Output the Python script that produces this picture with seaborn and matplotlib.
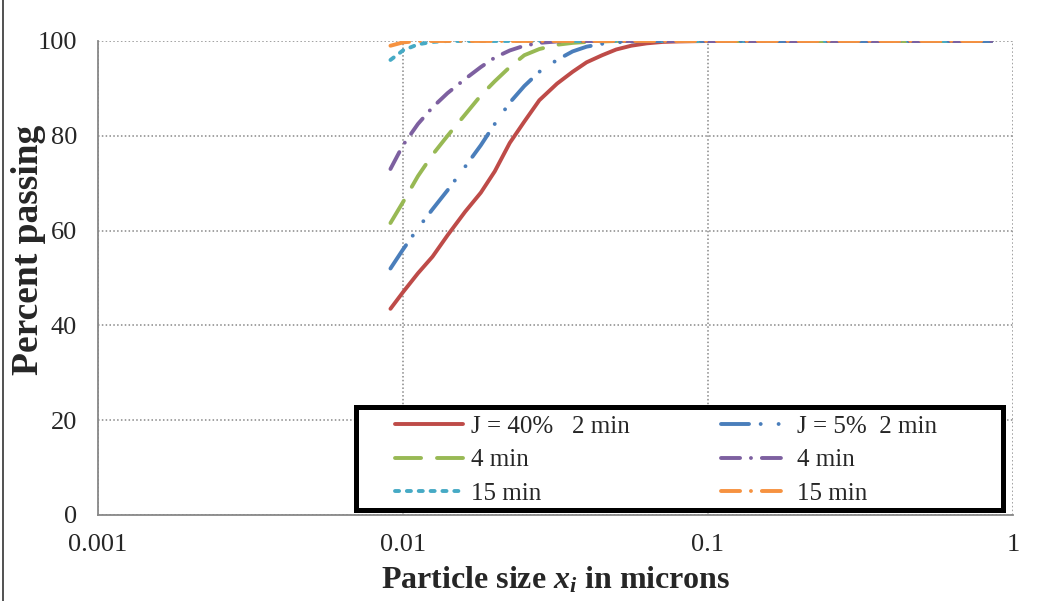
import matplotlib
matplotlib.use('Agg')
import numpy as np
import pandas as pd
import seaborn as sns
import matplotlib.pyplot as plt
import matplotlib.lines as mlines
import matplotlib.patches as mpatches

# particle sizes (microns) and percent passing
size = [0.0091, 0.01, 0.0112, 0.0125, 0.014, 0.016, 0.018, 0.02, 0.0224, 0.025,
        0.028, 0.032, 0.036, 0.04, 0.045, 0.05, 0.056, 0.063, 0.071, 0.08,
        0.1, 0.2, 0.4, 0.85]

j40_2min = [43.5, 47, 51, 54.5, 59, 64, 68, 72.5, 78.5, 83,
            87.5, 91, 93.5, 95.5, 97, 98.2, 99, 99.5, 99.8, 99.9,
            100, 100, 100, 100]
j40_4min = [61.6, 66, 71.5, 76, 80, 84.5, 88.5, 91.5, 94.5, 97,
            98.3, 99.2, 99.6, 99.8, 99.9, 100, 100, 100, 100, 100,
            100, 100, 100, 100]
j40_15min = [96, 98, 99.3, 99.8, 100, 100, 100, 100, 100, 100,
             100, 100, 100, 100, 100, 100, 100, 100, 100, 100,
             100, 100, 100, 100]
j5_2min = [52, 56, 60.5, 64.5, 68.5, 73.5, 78, 82.5, 87, 90.5,
           93.5, 96, 97.8, 98.8, 99.4, 99.7, 99.9, 100, 100, 100,
           100, 100, 100, 100]
j5_4min = [73, 78, 82.5, 86, 89, 92, 94.5, 96.5, 98, 99,
           99.6, 99.9, 100, 100, 100, 100, 100, 100, 100, 100,
           100, 100, 100, 100]
j5_15min = [99, 99.7, 100, 100, 100, 100, 100, 100, 100, 100,
            100, 100, 100, 100, 100, 100, 100, 100, 100, 100,
            100, 100, 100, 100]

labels = ['J = 40%   2 min', '4 min', '15 min', 'J = 5%  2 min', '4 min', '15 min']
x_ticks = [0.001, 0.01, 0.1, 1]
x_ticklabels = ['0.001', '0.01', '0.1', '1']
y_ticks = [0, 20, 40, 60, 80, 100]

sns.set_style('white')
plt.rcParams['font.family'] = ['Liberation Serif', 'DejaVu Serif']
plt.rcParams['mathtext.fontset'] = 'custom'
plt.rcParams['mathtext.it'] = 'Liberation Serif:italic:bold'
plt.rcParams['mathtext.rm'] = 'Liberation Serif:bold'

fig = plt.figure(figsize=(10.51, 6.01), dpi=100)
ax = fig.add_axes([0.0932, 0.1431, 0.8706, 0.7887])

series = [
    (j40_2min, '#BE4B48', '-'),
    (j40_4min, '#98B954', (0, (6.7, 4.1))),
    (j40_15min, '#46AAC5', (0, (1.05, 2.0))),
    (j5_2min, '#4A7EBB', (0, (7.2, 3, 0.01, 4.6, 0.01, 3))),
    (j5_4min, '#7D60A0', (0, (4.9, 2.8, 0.01, 2.8))),
    (j5_15min, '#F69240', (0, (4.9, 2.8, 0.01, 2.8))),
]
for (vals, col, ls), lab in zip(series, labels):
    df = pd.DataFrame({'size': size, 'passing': vals})
    sns.lineplot(data=df, x='size', y='passing', ax=ax, color=col,
                 linestyle=ls, linewidth=2.8, label=lab, sort=True,
                 solid_capstyle='round', dash_capstyle='round')

ax.set_xscale('log')
ax.set_xlim(0.001, 1)
ax.set_ylim(0, 100)
ax.set_xticks(x_ticks)
ax.set_xticklabels(x_ticklabels)
ax.set_yticks(y_ticks)
ax.minorticks_off()
ax.tick_params(axis='both', labelsize=19, direction='out', length=5,
               color='#888888', width=1.2)
ax.tick_params(axis='x', pad=9)
ax.tick_params(axis='y', pad=10)
ax.grid(True, which='major', linestyle=(0, (1, 1.5)), color='#888888', linewidth=1.1)
for s in ['top', 'right']:
    ax.spines[s].set_visible(False)
for s in ['left', 'bottom']:
    ax.spines[s].set_color('#888888')
    ax.spines[s].set_linewidth(1.3)

ax.set_xlabel('Particle size $x_i$ in microns', fontsize=23, fontweight='bold', labelpad=6)
ax.set_ylabel('Percent passing', fontsize=27, fontweight='bold')
ax.yaxis.set_label_coords(-0.057, 0.56)

# legend text without frame, frame drawn as its own white box behind it
leg = ax.legend(ncol=2, loc='upper left', bbox_to_anchor=(0.3758, 0.309),
                bbox_transform=fig.transFigure, fontsize=18, frameon=False,
                handlelength=2.72, handletextpad=0.32, columnspacing=3.64,
                borderpad=0, borderaxespad=0, labelspacing=0.44)
leg.set_zorder(6)
box = mpatches.Rectangle((0.3383, 0.1522), 0.6156, 0.1698,
                         transform=fig.transFigure, facecolor='white',
                         edgecolor='black', linewidth=3.6, zorder=5, clip_on=False)
ax.add_artist(box)

fig.add_artist(mlines.Line2D([0.003, 0.003], [0, 1], transform=fig.transFigure,
                             color='#333333', linewidth=1.2))

fig.savefig('out.png', dpi=100)
